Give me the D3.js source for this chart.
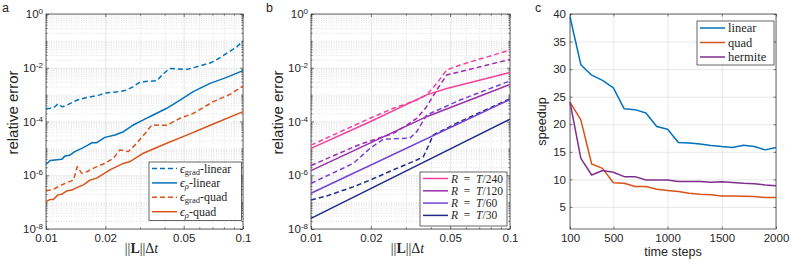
<!DOCTYPE html>
<html>
<head>
<meta charset="utf-8">
<script src="https://cdn.jsdelivr.net/npm/d3@7"></script>
<style>
body { margin: 0; background: #fff; }
svg { display: block; }
text { font-family: "Liberation Sans", Arial, sans-serif; fill: #262626; }
.tex { font-family: "Liberation Serif", "DejaVu Serif", serif; }
</style>
</head>
<body>
<svg id="chart" width="793" height="265"></svg>
<script>
// ---- data: panels a and b, [||L||dt, relative error]
var gradLinear = [[0.0100, 3.0e-4], [0.0105, 3.1e-4], [0.0111, 3.55e-4], [0.0115, 4.5e-4], [0.0121, 3.5e-4],
    [0.0128, 4.1e-4], [0.0144, 6.3e-4], [0.0161, 7.8e-4], [0.0188, 9.8e-4], [0.0199, 1.15e-3], [0.0232, 1.29e-3],
    [0.0252, 1.41e-3], [0.0273, 1.86e-3], [0.0300, 2.9e-3], [0.0307, 3.0e-3], [0.0366, 3.3e-3], [0.0393, 5.9e-3],
    [0.0424, 9.3e-3], [0.0520, 8.7e-3], [0.0605, 1.17e-2], [0.0680, 1.51e-2], [0.0713, 1.74e-2], [0.0830, 3.47e-2],
    [0.0932, 6.0e-2], [0.1, 0.1]];
var rhoLinear = [[0.0100, 2.5e-6], [0.0105, 3.55e-6], [0.0120, 3.9e-6], [0.0125, 5.25e-6], [0.0132, 5.6e-6],
    [0.0140, 7.6e-6], [0.0152, 1.0e-5], [0.0164, 1.35e-5], [0.0171, 1.62e-5], [0.0181, 1.62e-5], [0.0199, 2.57e-5],
    [0.0224, 3.16e-5], [0.0247, 4.17e-5], [0.0277, 7.4e-5], [0.0312, 1.15e-4], [0.0350, 1.74e-4], [0.0410, 3.1e-4],
    [0.0479, 6.3e-4], [0.0559, 1.29e-3], [0.0680, 2.63e-3], [0.0826, 4.37e-3], [0.1, 7.8e-3]];
var gradQuad = [[0.0100, 2.6e-7], [0.0109, 3.0e-7], [0.0118, 4.1e-7], [0.0127, 5.25e-7], [0.0138, 6.6e-7],
    [0.0144, 2.1e-6], [0.0152, 1.17e-6], [0.0161, 1.35e-6], [0.0181, 2.1e-6], [0.0199, 2.75e-6], [0.0220, 4.3e-6],
    [0.0237, 8.7e-6], [0.0262, 7.6e-6], [0.0289, 1.55e-5], [0.0324, 4.2e-5], [0.0344, 7.4e-5], [0.0410, 7.2e-5],
    [0.0479, 1.32e-4], [0.0559, 2.0e-4], [0.0707, 5.5e-4], [0.0859, 1.02e-3], [0.1, 2.1e-3]];
var rhoQuad = [[0.0100, 1.05e-7], [0.0105, 1.26e-7], [0.0109, 1.26e-7], [0.0115, 1.86e-7], [0.0120, 1.95e-7],
    [0.0127, 2.57e-7], [0.0135, 2.8e-7], [0.0146, 3.7e-7], [0.0155, 4.4e-7], [0.0167, 6.6e-7], [0.0181, 7.8e-7],
    [0.0211, 1.58e-6], [0.0247, 2.75e-6], [0.0267, 3.24e-6], [0.0312, 6.6e-6], [0.0410, 1.55e-5],
    [0.0518, 3.1e-5], [0.0707, 8.1e-5], [0.1, 2.34e-4]];

var r240Solid = [[0.01, 1.0e-5], [0.0198, 9.8e-5], [0.0381, 9.8e-4], [0.0481, 1.7e-3], [0.1, 6.6e-3]];
var r240Dash = [[0.01, 1.32e-5], [0.0198, 1.32e-4], [0.0259, 3.1e-4], [0.034, 6.3e-4], [0.0381, 9.8e-4],
    [0.0428, 2.6e-3], [0.0481, 8.3e-3], [0.0561, 1.26e-2], [0.068, 1.95e-2], [0.0824, 2.95e-2], [0.1, 4.6e-2]];
var r120Solid = [[0.01, 1.48e-6], [0.0381, 1.51e-4], [0.1, 2.4e-3]];
var r120Dash = [[0.01, 2.3e-6], [0.0176, 1.41e-5], [0.0259, 3.6e-5], [0.0303, 7.4e-5], [0.034, 1.32e-4],
    [0.0381, 3.55e-4], [0.0428, 1.48e-3], [0.0481, 5.4e-3], [0.0561, 7.1e-3], [0.1, 2.04e-2]];
var r60Solid = [[0.01, 2.14e-7], [0.1, 6.6e-4]];
var r60Dash = [[0.01, 5.0e-7], [0.0163, 2.75e-6], [0.0198, 1.0e-5], [0.0231, 2.2e-5], [0.0314, 2.4e-5],
    [0.034, 4.2e-5], [0.0381, 1.74e-4], [0.0454, 3.1e-4], [0.0561, 6.3e-4], [0.1, 3.24e-3]];
var r30Solid = [[0.01, 2.5e-8], [0.1, 1.23e-4]];
var r30Dash = [[0.01, 1.2e-7], [0.012, 1.7e-7], [0.0163, 3.7e-7], [0.0198, 6.6e-7], [0.0259, 1.58e-6],
    [0.034, 3.7e-6], [0.0367, 4.9e-6], [0.0412, 3.2e-5], [0.0481, 5.6e-5], [0.0561, 1.0e-4], [0.1, 7.0e-4]];

// ---- data: panel c
var timeSteps = [100, 200, 300, 400, 500, 600, 700, 800, 900, 1000, 1100, 1200, 1300, 1400, 1500, 1600, 1700, 1800, 1900, 2000];
var speedLinear = [39.5, 30.8, 28.9, 27.95, 26.6, 22.8, 22.65, 22.05, 19.6, 19.1, 16.7, 16.6, 16.4, 16.15, 15.95, 15.8, 16.2, 15.95, 15.35, 15.8];
var speedQuad = [24.0, 20.8, 12.8, 12.0, 9.4, 9.3, 8.7, 8.7, 8.2, 8.0, 7.8, 7.5, 7.3, 7.2, 7.0, 7.0, 6.95, 6.9, 6.7, 6.7];
var speedHermite = [24.0, 13.8, 10.8, 11.6, 11.3, 10.5, 10.5, 9.9, 9.9, 9.9, 9.6, 9.6, 9.6, 9.5, 9.55, 9.45, 9.3, 9.2, 9.0, 8.85];

// ---- ticks
var xTicks = [0.01, 0.02, 0.05, 0.1];
var xTickText = ["0.01", "0.02", "0.05", "0.1"];
var xMinorTicks = [0.03, 0.04, 0.06, 0.07, 0.08, 0.09];
var yTicks = [1e-8, 1e-6, 1e-4, 1e-2, 1];
var yTickExp = ["-8", "-6", "-4", "-2", "0"];
var stepTicks = [100, 500, 1000, 1500, 2000];
var speedTicks = [5, 10, 15, 20, 25, 30, 35, 40];

var yMinorTicks = [];
for (var n = -8; n < 0; n++) {
    for (var k = 1; k < 10; k++) {
        if (k == 1 && n % 2 == 0) continue;
        yMinorTicks.push(+(k * Math.pow(10, n)).toPrecision(3));
    }
}

var BLUE = "#0072BD", ORANGE = "#D95319", PURPLE = "#7E2F8E";
var PINK = "#F2429C", MAGENTA = "#9B2DAE", VIOLET = "#7443D4", NAVY = "#222C88";

var svg = d3.select("#chart");

function gridStyle(sel, minor) {
    sel.select(".domain").remove();
    sel.selectAll("line")
        .attr("stroke", minor ? "#cfcfcf" : "#dedede")
        .attr("stroke-width", minor ? 0.6 : 0.7)
        .attr("stroke-dasharray", minor ? "1,1.5" : null);
}

function tickStyle(sel) {
    sel.select(".domain").remove();
    sel.selectAll("line").attr("stroke", "#262626").attr("stroke-width", 0.6);
    sel.selectAll("text").attr("font-size", "11.5px").attr("fill", "#262626")
        .style("font-family", "'Liberation Sans', Arial, sans-serif");
}

function frame(box) {
    svg.append("rect")
        .attr("x", box.left).attr("y", box.top)
        .attr("width", box.right - box.left).attr("height", box.bottom - box.top)
        .attr("fill", "none").attr("stroke", "#262626").attr("stroke-width", 0.7);
}

function legend(x0, y0, w, h, rowY, rowStep, size, items) {
    svg.append("rect").attr("x", x0).attr("y", y0).attr("width", w).attr("height", h)
        .attr("fill", "#fff").attr("stroke", "#262626").attr("stroke-width", 0.7);
    items.forEach(function(it, i) {
        var yy = y0 + rowY + i * rowStep;
        svg.append("line").attr("x1", x0 + 3).attr("x2", x0 + 28).attr("y1", yy).attr("y2", yy)
            .attr("stroke", it.color).attr("stroke-width", 1.5)
            .attr("stroke-dasharray", it.dash ? "5,3" : null);
        var t = svg.append("text").attr("class", "tex").attr("x", x0 + 31).attr("y", yy + 4)
            .attr("font-size", size + "px");
        it.label(t);
    });
}

function logPanel(box) {
    var x = d3.scaleLog().domain([0.01, 0.1]).range([box.left, box.right]);
    var y = d3.scaleLog().domain([1e-8, 1]).range([box.bottom, box.top]);
    var w = box.right - box.left, h = box.bottom - box.top;

    svg.append("g").attr("transform", "translate(0," + box.bottom + ")")
        .call(d3.axisBottom(x).tickValues(xMinorTicks).tickSize(-h).tickFormat(""))
        .call(gridStyle, true);
    svg.append("g").attr("transform", "translate(" + box.left + ",0)")
        .call(d3.axisLeft(y).tickValues(yMinorTicks).tickSize(-w).tickFormat(""))
        .call(gridStyle, true);
    svg.append("g").attr("transform", "translate(0," + box.bottom + ")")
        .call(d3.axisBottom(x).tickValues(xTicks).tickSize(-h).tickFormat(""))
        .call(gridStyle, false);
    svg.append("g").attr("transform", "translate(" + box.left + ",0)")
        .call(d3.axisLeft(y).tickValues(yTicks).tickSize(-w).tickFormat(""))
        .call(gridStyle, false);

    // ticks
    svg.append("g").attr("transform", "translate(0," + box.bottom + ")")
        .call(d3.axisBottom(x).tickValues(xTicks).tickSize(-3).tickPadding(5)
            .tickFormat(function(d, i) { return xTickText[i]; }))
        .call(tickStyle);
    svg.append("g").attr("transform", "translate(0," + box.bottom + ")")
        .call(d3.axisBottom(x).tickValues(xMinorTicks).tickSize(-1.6).tickFormat(""))
        .call(tickStyle);
    svg.append("g").attr("transform", "translate(0," + box.top + ")")
        .call(d3.axisTop(x).tickValues(xTicks).tickSize(-3).tickFormat(""))
        .call(tickStyle);
    svg.append("g").attr("transform", "translate(0," + box.top + ")")
        .call(d3.axisTop(x).tickValues(xMinorTicks).tickSize(-1.6).tickFormat(""))
        .call(tickStyle);
    var yl = svg.append("g").attr("transform", "translate(" + box.left + ",0)")
        .call(d3.axisLeft(y).tickValues(yTicks).tickSize(-3).tickPadding(3).tickFormat(""))
        .call(tickStyle);
    yl.selectAll(".tick text").each(function(d, i) {
        var t = d3.select(this);
        t.append("tspan").text("10");
        t.append("tspan").attr("dy", "-0.5em").attr("font-size", "8px").text(yTickExp[i]);
    });
    svg.append("g").attr("transform", "translate(" + box.left + ",0)")
        .call(d3.axisLeft(y).tickValues(yMinorTicks).tickSize(-1.6).tickFormat(""))
        .call(tickStyle);
    svg.append("g").attr("transform", "translate(" + box.right + ",0)")
        .call(d3.axisRight(y).tickValues(yTicks).tickSize(-3).tickFormat(""))
        .call(tickStyle);
    svg.append("g").attr("transform", "translate(" + box.right + ",0)")
        .call(d3.axisRight(y).tickValues(yMinorTicks).tickSize(-1.6).tickFormat(""))
        .call(tickStyle);

    frame(box);

    // axis labels
    var xl = svg.append("text").attr("class", "tex").attr("x", (box.left + box.right) / 2 - 3).attr("y", 253)
        .attr("text-anchor", "middle").attr("font-size", "14px");
    xl.append("tspan").text("||");
    xl.append("tspan").attr("font-weight", "bold").text("L");
    xl.append("tspan").text("||Δ");
    xl.append("tspan").attr("font-style", "italic").text("t");

    svg.append("text").attr("transform", "translate(" + (box.left - 27.7) + "," + ((box.top + box.bottom) / 2 - 9) + ") rotate(-90)")
        .attr("text-anchor", "middle").attr("font-size", "15px").text("relative error");

    return { x: x, y: y };
}

function drawSeries(sc, data, color, dash) {
    var line = d3.line().x(function(d) { return sc.x(d[0]); }).y(function(d) { return sc.y(d[1]); });
    svg.append("path").datum(data)
        .attr("d", line)
        .attr("fill", "none").attr("stroke", color).attr("stroke-width", 1.5)
        .attr("stroke-linejoin", "round")
        .attr("stroke-dasharray", dash ? "5,3" : null);
}

function epsLabel(sub, subItalic, rest) {
    return function(t) {
        t.append("tspan").attr("font-style", "italic").text("ϵ");
        t.append("tspan").attr("font-size", "8.5px").attr("dy", 2)
            .attr("font-style", subItalic ? "italic" : null).text(sub);
        t.append("tspan").attr("dy", -2).text(rest);
    };
}

function ratioLabel(den) {
    return function(t) {
        t.append("tspan").attr("font-style", "italic").text("R");
        t.append("tspan").text("\u2002=\u2002");
        t.append("tspan").attr("font-style", "italic").text("T");
        t.append("tspan").text("/" + den);
    };
}

// ---- panel a
var boxA = { left: 46, right: 243, top: 14, bottom: 229 };
var scA = logPanel(boxA);
drawSeries(scA, gradLinear, BLUE, true);
drawSeries(scA, rhoLinear, BLUE, false);
drawSeries(scA, gradQuad, ORANGE, true);
drawSeries(scA, rhoQuad, ORANGE, false);
legend(149, 162, 92.5, 58.5, 6.5, 14.4, 12, [
    { color: BLUE, dash: true, label: epsLabel("grad", false, "-linear") },
    { color: BLUE, dash: false, label: epsLabel("ρ", true, "-linear") },
    { color: ORANGE, dash: true, label: epsLabel("grad", false, "-quad") },
    { color: ORANGE, dash: false, label: epsLabel("ρ", true, "-quad") }
]);

// ---- panel b
var boxB = { left: 311, right: 510, top: 14, bottom: 229 };
var scB = logPanel(boxB);
drawSeries(scB, r30Solid, NAVY, false);
drawSeries(scB, r30Dash, NAVY, true);
drawSeries(scB, r60Solid, VIOLET, false);
drawSeries(scB, r60Dash, VIOLET, true);
drawSeries(scB, r120Solid, MAGENTA, false);
drawSeries(scB, r120Dash, MAGENTA, true);
drawSeries(scB, r240Solid, PINK, false);
drawSeries(scB, r240Dash, PINK, true);
legend(420, 172, 87, 54, 6.5, 12.3, 11.5, [
    { color: PINK, label: ratioLabel("240") },
    { color: MAGENTA, label: ratioLabel("120") },
    { color: VIOLET, label: ratioLabel("60") },
    { color: NAVY, label: ratioLabel("30") }
]);

// ---- panel c
var boxC = { left: 570, right: 776, top: 14, bottom: 229 };
var xc = d3.scaleLinear().domain([100, 2000]).range([boxC.left, boxC.right]);
var yc = d3.scaleLinear().domain([1, 40]).range([boxC.bottom, boxC.top]);

svg.append("g").attr("transform", "translate(0," + boxC.bottom + ")")
    .call(d3.axisBottom(xc).tickValues(stepTicks).tickSize(-(boxC.bottom - boxC.top)).tickFormat(""))
    .call(gridStyle, false);
svg.append("g").attr("transform", "translate(" + boxC.left + ",0)")
    .call(d3.axisLeft(yc).tickValues(speedTicks).tickSize(-(boxC.right - boxC.left)).tickFormat(""))
    .call(gridStyle, false);
svg.append("g").attr("transform", "translate(0," + boxC.bottom + ")")
    .call(d3.axisBottom(xc).tickValues(stepTicks).tickSize(-2.5).tickPadding(5).tickFormat(d3.format("d")))
    .call(tickStyle);
svg.append("g").attr("transform", "translate(0," + boxC.top + ")")
    .call(d3.axisTop(xc).tickValues(stepTicks).tickSize(-2.5).tickFormat(""))
    .call(tickStyle);
svg.append("g").attr("transform", "translate(" + boxC.left + ",0)")
    .call(d3.axisLeft(yc).tickValues(speedTicks).tickSize(-2.5).tickPadding(4).tickFormat(d3.format("d")))
    .call(tickStyle);
svg.append("g").attr("transform", "translate(" + boxC.right + ",0)")
    .call(d3.axisRight(yc).tickValues(speedTicks).tickSize(-2.5).tickFormat(""))
    .call(tickStyle);
frame(boxC);

var lineC = function(vals) {
    return d3.line().x(function(d, i) { return xc(timeSteps[i]); }).y(function(d) { return yc(d); })(vals);
};
[[speedLinear, BLUE], [speedQuad, ORANGE], [speedHermite, PURPLE]].forEach(function(s) {
    svg.append("path").attr("d", lineC(s[0]))
        .attr("fill", "none").attr("stroke", s[1]).attr("stroke-width", 1.5).attr("stroke-linejoin", "round");
});

legend(697, 21, 77, 44, 7, 14.5, 12.5, [
    { color: BLUE, label: function(t) { t.text("linear"); } },
    { color: ORANGE, label: function(t) { t.text("quad"); } },
    { color: PURPLE, label: function(t) { t.text("hermite"); } }
]);

svg.append("text").attr("x", (boxC.left + boxC.right) / 2).attr("y", 256)
    .attr("text-anchor", "middle").attr("font-size", "12.6px").text("time steps");
svg.append("text").attr("transform", "translate(546," + ((boxC.top + boxC.bottom) / 2) + ") rotate(-90)")
    .attr("text-anchor", "middle").attr("font-size", "12.6px").text("speedup");

// ---- panel letters
svg.append("text").attr("x", 2).attr("y", 12).attr("font-size", "12.5px").text("a");
svg.append("text").attr("x", 266).attr("y", 12).attr("font-size", "12.5px").text("b");
svg.append("text").attr("x", 535).attr("y", 12).attr("font-size", "12.5px").text("c");
</script>
</body>
</html>
